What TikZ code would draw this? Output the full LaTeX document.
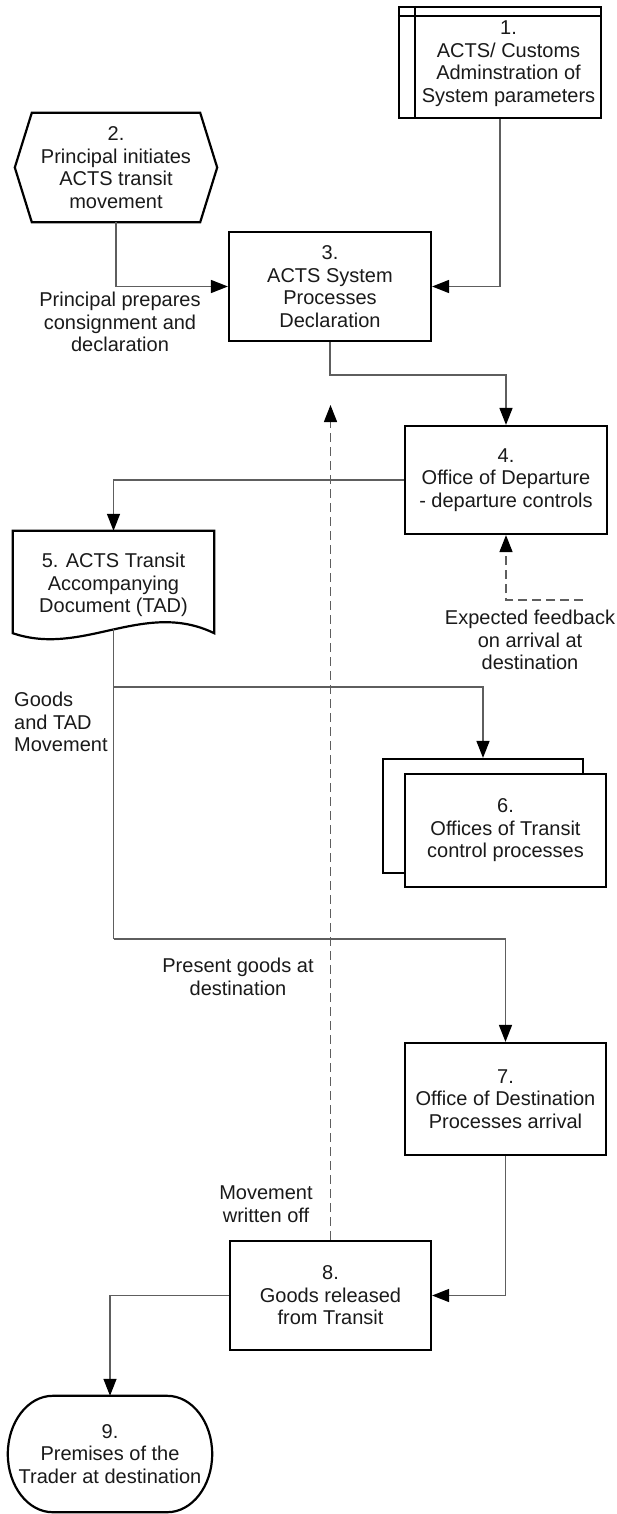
\documentclass[tikz,border=0pt]{standalone}
\usepackage{fontspec}
\setmainfont{Liberation Sans}
\usetikzlibrary{arrows.meta,calc}
\definecolor{connc}{HTML}{5E5E5E}
\definecolor{txtc}{HTML}{1A1A1A}
\begin{document}
\begin{tikzpicture}[x=1pt,y=-1pt,
  font=\fontsize{20pt}{22.5pt}\selectfont, text=txtc,
  box/.style={draw=black, line width=2.2pt, fill=white, inner sep=0pt, align=center},
  ghost/.style={inner sep=0pt, align=center},
  shapeline/.style={draw=black, line width=2.2pt},
  lbl/.style={inner sep=0pt, align=center},
  conn/.style={draw=connc, line width=1.4pt},
  arr/.style={conn, -{Triangle[length=17pt,width=13pt,color=black]}},
  fbk/.style={arr, dash pattern=on 9pt off 5pt}]
\path[use as bounding box, fill=white] (0,0) rectangle (617,1514);

% 1
\node[box, minimum width=202pt, minimum height=111pt] (b1) at (500,62.5) {};
\draw[shapeline] ([yshift=-10pt]b1.north west) -- ([yshift=-10pt]b1.north east);
\draw[shapeline] ([xshift=17pt]b1.north west) -- ([xshift=17pt]b1.south west);
\node[lbl] (b1t) at (508.5,63.5) {1.\\ACTS/ Customs\\Adminstration of\\System parameters};

% 2
\node[ghost, minimum width=202pt, minimum height=109pt] (b2) at (116,167.5) {2.\\Principal initiates\\ACTS transit\\movement};
\draw[shapeline] (b2.west) -- ([xshift=17pt]b2.north west) -- ([xshift=-17pt]b2.north east) -- (b2.east) -- ([xshift=-17pt]b2.south east) -- ([xshift=17pt]b2.south west) -- cycle;

% 3
\node[box, minimum width=202pt, minimum height=109pt] (b3) at (330,286.5) {3.\\ACTS System\\Processes\\Declaration};

% 4
\node[box, minimum width=202pt, minimum height=108pt] (b4) at (506,480) {4.\\Office of Departure\\- departure controls};

% 5 document
\node[ghost, minimum width=201pt, minimum height=102pt] (b5) at (113.5,582) {};
\node[lbl] (b5t) at (113.5,585) {5. ACTS Transit\\Accompanying\\Document (TAD)};
\draw[shapeline] (b5.south west) -- (b5.north west) -- (b5.north east) -- (b5.south east)
  .. controls +(-70,-34) and +(70,24) .. (b5.south west) -- cycle;

% 6
\node[box, minimum width=200pt, minimum height=114pt] (b6b) at (483,816) {};
\node[box, minimum width=201pt, minimum height=113pt] (b6) at (505.5,830.5) {6.\\Offices of Transit\\control processes};

% 7
\node[box, minimum width=201pt, minimum height=112pt] (b7) at (505.5,1099) {7.\\Office of Destination\\Processes arrival};

% 8
\node[box, minimum width=201pt, minimum height=109pt] (b8) at (330.5,1295.5) {8.\\Goods released\\from Transit};

% 9 terminator
\node[ghost, minimum width=204pt, minimum height=116pt] (b9) at (110,1454) {9.\\Premises of the\\Trader at destination};
\draw[shapeline] ([xshift=45pt]b9.north west) -- ([xshift=-45pt]b9.north east)
  .. controls +(24.9,0) and +(0,-32) .. (b9.east)
  .. controls +(0,32) and +(24.9,0) .. ([xshift=-45pt]b9.south east)
  -- ([xshift=45pt]b9.south west)
  .. controls +(-24.9,0) and +(0,32) .. (b9.west)
  .. controls +(0,-32) and +(-24.9,0) .. ([xshift=45pt]b9.north west) -- cycle;

% connectors
\coordinate (j1) at (b5.south |- 0,687);
\coordinate (j2) at (b5.south |- 0,939);
\coordinate (d1) at (b8.north |- 0,405);
\coordinate (d2) at (583,600);

\draw[arr] (b1.south) |- (b3.east);
\draw[arr] (b2.south) |- (b3.west);
\draw[arr] (b3.south) -- ++(0,33) -| (b4.north);
\draw[arr] (b4.west) -| (b5.north);
\draw[conn] ([yshift=4pt]b5.south) -- (j2);
\draw[arr] (j2) -| (b7.north);
\draw[arr] (j1) -| (b6b.north);
\draw[arr] (b7.south) |- (b8.east);
\draw[arr] (b8.west) -| (b9.north);
\draw[fbk] (b8.north) -- (d1);
\draw[fbk] (d2) -| (b4.south);

% labels
\node[lbl] (l1) at (120,322) {Principal prepares\\consignment and\\declaration};
\node[lbl, align=left, anchor=west] (l2) at (14,722) {Goods\\and TAD\\Movement};
\node[lbl] (l3) at (530,640) {Expected feedback\\on arrival at\\destination};
\node[lbl] (l4) at (238,977) {Present goods at\\destination};
\node[lbl] (l5) at (266,1204) {Movement\\written off};
\end{tikzpicture}
\end{document}
